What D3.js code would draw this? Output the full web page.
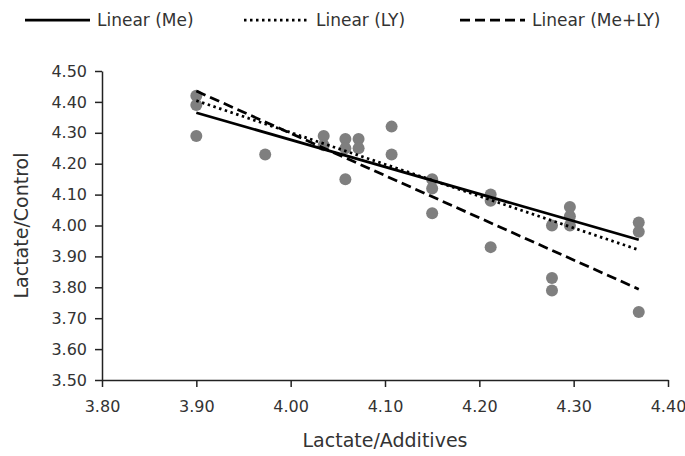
<!DOCTYPE html>
<html lang="en">
<head>
    <meta charset="UTF-8">
    <title>Lactate scatter</title>
    <style>
        body { margin: 0; background: #fff; }
        text { font-family: "DejaVu Sans", sans-serif; fill: #333; }
    </style>
    <script src="https://d3js.org/d3.v7.min.js"></script>
</head>
<body>
<svg id="chart" width="685" height="456"></svg>

<script>
    // scatter points
    const pointX = [3.90, 3.90, 3.90, 3.973, 4.035, 4.035, 4.058, 4.058, 4.058, 4.072, 4.072,
        4.107, 4.107, 4.150, 4.150, 4.150, 4.212, 4.212, 4.212, 4.277, 4.277, 4.277,
        4.296, 4.296, 4.296, 4.369, 4.369, 4.369];
    const pointY = [4.42, 4.39, 4.29, 4.23, 4.29, 4.26, 4.28, 4.25, 4.15, 4.28, 4.25,
        4.32, 4.23, 4.15, 4.12, 4.04, 4.10, 4.08, 3.93, 4.00, 3.83, 3.79,
        4.06, 4.03, 4.00, 4.01, 3.98, 3.72];

    // trendline end values
    const trendNames = ["Linear (Me)", "Linear (LY)", "Linear (Me+LY)"];
    const trendX = [3.90, 4.369];
    const trendMe = [4.365, 3.954];
    const trendLY = [4.404, 3.921];
    const trendMeLY = [4.435, 3.794];

    const xTicks = [3.80, 3.90, 4.00, 4.10, 4.20, 4.30, 4.40];
    const yTicks = [3.50, 3.60, 3.70, 3.80, 3.90, 4.00, 4.10, 4.20, 4.30, 4.40, 4.50];

    const svg = d3.select("#chart");
    const x = d3.scaleLinear().domain([3.8, 4.4]).range([102, 668]);
    const y = d3.scaleLinear().domain([3.5, 4.5]).range([380, 71]);

    const dashes = ["none", "2.5,3.5", "10,5"];
    const trends = [trendMe, trendLY, trendMeLY].map(function (vals, i) {
        return {
            name: trendNames[i],
            dash: dashes[i],
            pts: trendX.map(function (xv, j) { return [xv, vals[j]]; })
        };
    });

    // axes
    const xAxis = svg.append("g")
        .attr("transform", "translate(0," + y(3.5) + ")")
        .call(d3.axisBottom(x).tickValues(xTicks).tickFormat(d3.format(".2f"))
            .tickSize(7).tickSizeOuter(0).tickPadding(14));
    const yAxis = svg.append("g")
        .attr("transform", "translate(" + x(3.8) + ",0)")
        .call(d3.axisLeft(y).tickValues(yTicks).tickFormat(d3.format(".2f"))
            .tickSize(7).tickSizeOuter(0).tickPadding(8));
    [xAxis, yAxis].forEach(function (ax) {
        ax.selectAll("path, line").attr("stroke", "#222").attr("stroke-width", 1.5);
        ax.selectAll("text").attr("font-size", 16).attr("fill", "#333")
            .attr("font-family", "DejaVu Sans, sans-serif");
    });

    // points
    svg.append("g").selectAll("circle")
        .data(pointX.map(function (d, i) { return [d, pointY[i]]; }))
        .join("circle")
        .attr("cx", d => x(d[0]))
        .attr("cy", d => y(d[1]))
        .attr("r", 6)
        .attr("fill", "#7f7f7f");

    // trendlines
    const line = d3.line().x(d => x(d[0])).y(d => y(d[1]));
    svg.append("g").selectAll("path")
        .data(trends)
        .join("path")
        .attr("d", d => line(d.pts))
        .attr("fill", "none")
        .attr("stroke", "#000")
        .attr("stroke-width", 2.75)
        .attr("stroke-dasharray", d => d.dash);

    // axis titles
    svg.append("text")
        .attr("x", (x(3.8) + x(4.4)) / 2)
        .attr("y", 447)
        .attr("text-anchor", "middle")
        .attr("font-size", 19)
        .text("Lactate/Additives");
    svg.append("text")
        .attr("transform", "translate(28," + (y(3.5) + y(4.5)) / 2 + ") rotate(-90)")
        .attr("text-anchor", "middle")
        .attr("font-size", 19)
        .text("Lactate/Control");

    // legend
    const legendX = [25, 244, 460];
    const legend = svg.append("g").selectAll("g")
        .data(trends)
        .join("g")
        .attr("transform", (d, i) => "translate(" + legendX[i] + ",20)");
    legend.append("line")
        .attr("x1", 0).attr("x2", 65)
        .attr("stroke", "#000")
        .attr("stroke-width", 2.75)
        .attr("stroke-dasharray", d => d.dash);
    legend.append("text")
        .attr("x", 72)
        .attr("y", 6)
        .attr("font-size", 17)
        .text(d => d.name);
</script>
</body>
</html>
